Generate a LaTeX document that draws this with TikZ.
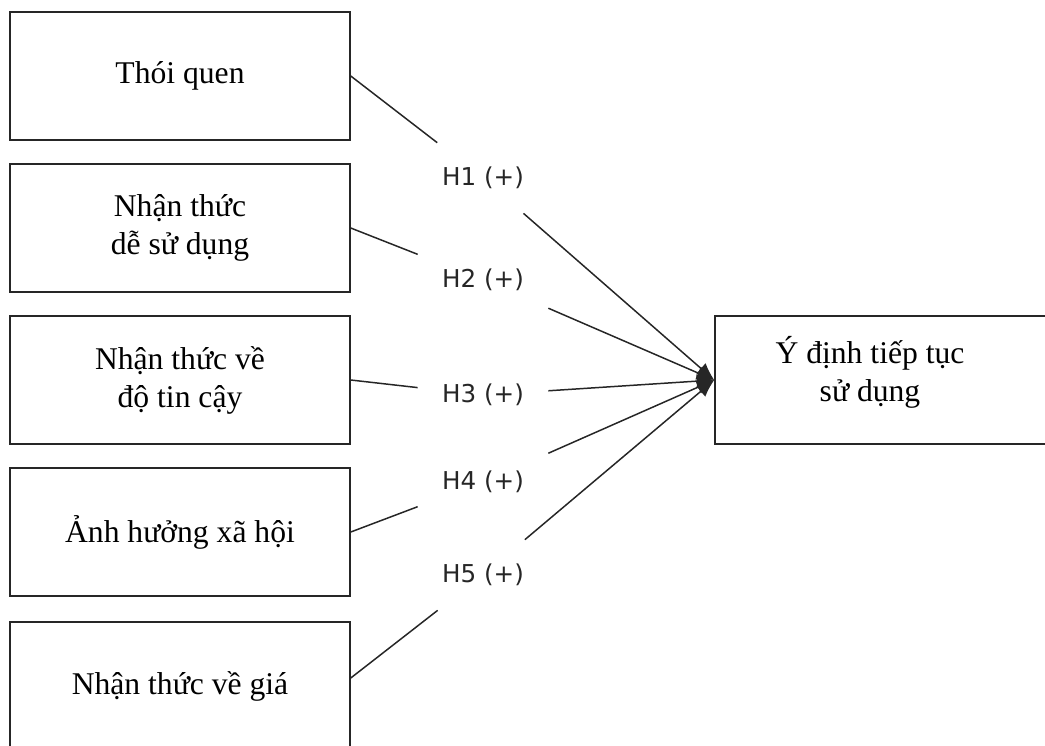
\documentclass[tikz,border=0pt]{standalone}
\usepackage{fontspec}
\setmainfont{Liberation Serif}
\newfontfamily\hypfont{DejaVu Sans}
\usepackage{tikz}
\usetikzlibrary{positioning, arrows.meta}

\tikzset{
  factor/.style={draw=black!85, line width=0.9pt, minimum width=6.8cm, minimum height=2.56cm,
    align=center, font=\fontsize{18}{21.6}\selectfont},
  hyp/.style={minimum width=2.6cm, minimum height=1.4cm, inner sep=0pt,
    font=\hypfont\fontsize{14}{16}\selectfont, text=black!85},
  link/.style={line width=0.85pt, black!85},
}

\begin{document}
\begin{tikzpicture}[x=0.02cm, y=-0.02cm]
      \clip (0,0) rectangle (1045,745);

      % Factor boxes
      \foreach \i/\y/\txt in {1/76/{Thói quen}, 2/228/{Nhận thức\\dễ sử dụng},
                              3/380/{Nhận thức về\\độ tin cậy}, 4/532/{Ảnh hưởng xã hội},
                              5/686/{Nhận thức về giá}} {
        \node[factor] (b\i) at (180,\y) {\txt};
      }

      % Dependent variable
      \node[factor, minimum width=6.9cm] (intent) at (887.5,380) {};
      \node[font=\fontsize{18}{21.6}\selectfont, align=center] (intenttext) at (870,372) {Ý định tiếp tục\\sử dụng};

      % Hypothesis labels
      \foreach \i/\y in {1/178, 2/280, 3/395, 4/482, 5/575} {
        \node[hyp] (h\i) at (483,\y) {H\i\ (+)};
      }

      % Paths
      \foreach \i in {1,...,4} {
        \draw[link] (b\i.east) -- (h\i);
      }
      \draw[link] ([yshift=0.16cm]b5.east) -- (h5);
      \foreach \i in {1,...,5} {
        \draw[link, -{Latex[length=10pt, width=8pt]}] (h\i) -- (intent.west);
      }
    \end{tikzpicture}
\end{document}
